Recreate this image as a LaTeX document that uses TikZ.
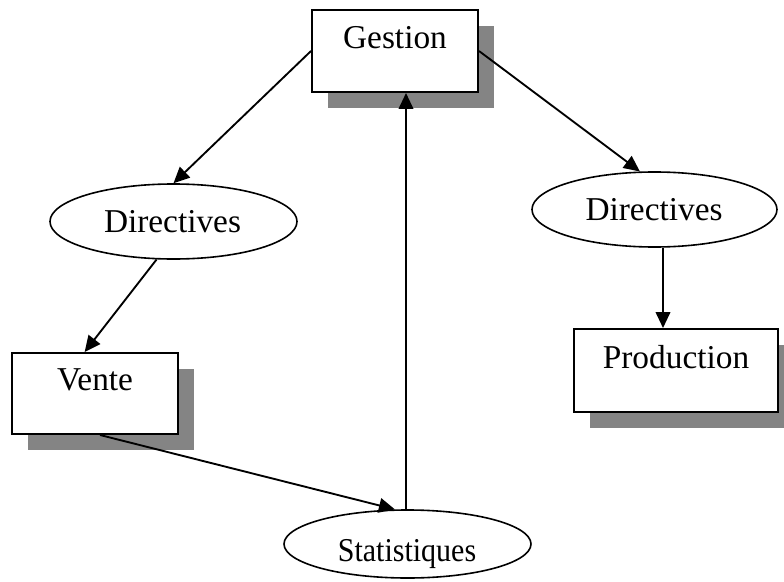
\documentclass[tikz,border=0pt]{standalone}
\usepackage{fontspec}
\setmainfont{Liberation Serif}
\newfontfamily\narrowserif[FakeStretch=0.9]{Liberation Serif}
\usetikzlibrary{arrows.meta,shapes.geometric,shadows,calc}
\definecolor{shadowgray}{RGB}{132,132,132}
\tikzset{
  flowbox/.style={draw=black, line width=1.5pt, fill=white, inner sep=0pt,
    drop shadow={shadow xshift=12pt, shadow yshift=-12pt, fill=shadowgray, opacity=1}},
  flowoval/.style={ellipse, draw=black, line width=1.2pt, fill=white, inner sep=0pt},
  caption/.style={anchor=base, inner sep=0pt, font=\fontsize{25pt}{30pt}\selectfont},
  link/.style={line width=1.4pt, -{Triangle[length=12pt, width=11pt]}}
}
\begin{document}
\begin{tikzpicture}[x=0.75pt, y=-0.75pt]
  \useasboundingbox (0,0) rectangle (784,581);

  % boxes
  \node[flowbox, minimum width=124.5pt, minimum height=61.5pt] (gestion) at (395,51) {};
  \node[flowbox, minimum width=124.5pt, minimum height=60.75pt] (vente) at (95,393.5) {};
  \node[flowbox, minimum width=153pt, minimum height=62.25pt] (prod) at (676,370.5) {};

  % ovals
  \node[flowoval, minimum width=185.25pt, minimum height=56.25pt] (dl) at (173.5,221.5) {};
  \node[flowoval, minimum width=183.75pt, minimum height=56.25pt] (dr) at (654.5,209.5) {};
  \node[flowoval, minimum width=185.25pt, minimum height=51pt] (stat) at (407.5,544) {};

  % labels
  \node[caption] (tgestion) at (395,49) {Gestion};
  \node[caption] (tvente) at (95,390) {Vente};
  \node[caption] (tprod) at (676,368) {Production};
  \node[caption] (tdl) at (172.5,232) {Directives};
  \node[caption] (tdr) at (654,220) {Directives};
  \node[caption, font=\fontsize{25pt}{30pt}\narrowserif] (tstat) at (407,561) {Statistiques};

  % connectors
  \draw[link] (gestion.west) -- (dl.north);
  \draw[link] (dl.246) -- (vente.104);
  \draw[link] (gestion.east) -- (dr.111);
  \draw[link] ($(dr.south)+(8.5,0)$) -- ($(prod.north)+(-13,0)$);
  \draw[link] ($(vente.south)+(5,0)$) -- (stat.110);
  \draw[link] ($(stat.north)+(-1.5,0)$) -- ($(gestion.south)+(11,0)$);
\end{tikzpicture}
\end{document}
